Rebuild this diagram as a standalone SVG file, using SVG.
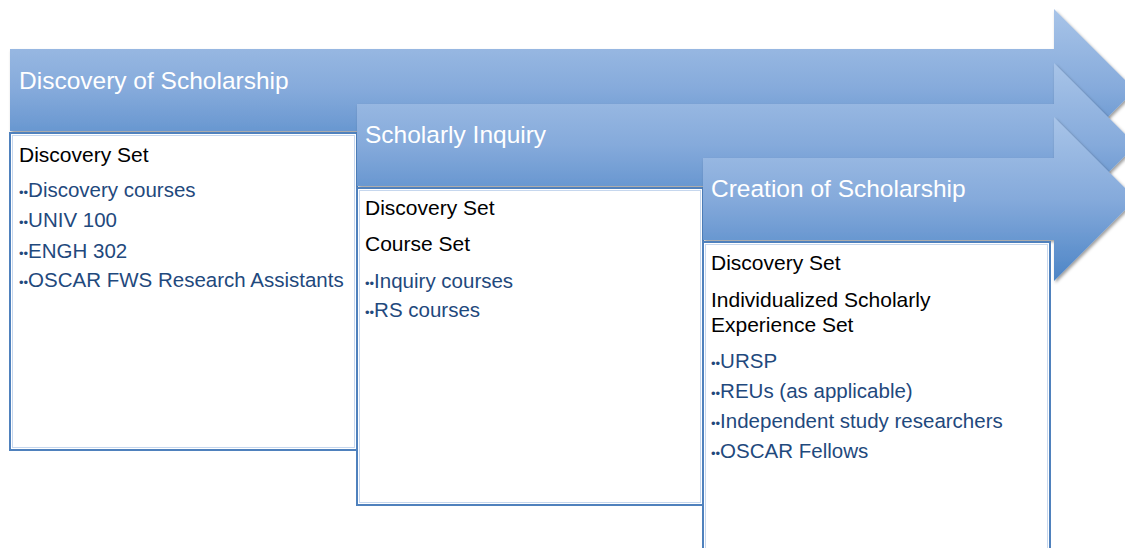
<svg xmlns="http://www.w3.org/2000/svg" width="1125" height="548" viewBox="0 0 1125 548">
  <defs>
    <linearGradient id="arrowGrad" x1="0" y1="0" x2="0" y2="1">
      <stop offset="0" stop-color="#a8c4e8"/>
      <stop offset="0.5" stop-color="#85aadb"/>
      <stop offset="1" stop-color="#4d85c6"/>
    </linearGradient>
    <filter id="shadow" x="-5%" y="-10%" width="115%" height="130%">
      <feDropShadow dx="1.5" dy="2" stdDeviation="1.8" flood-color="#000" flood-opacity="0.38"/>
    </filter>
  </defs>
  <style>
    .arrow { fill: url(#arrowGrad); filter: url(#shadow); }
    .box { fill: #ffffff; stroke: #4f81bd; stroke-width: 2; }
    .boxin { fill: none; stroke: #c6d7ee; stroke-width: 1; }
    .title { font-family: "Liberation Sans", Arial, sans-serif; font-size: 24.5px; fill: #ffffff; }
    .head { font-family: "Liberation Sans", Arial, sans-serif; font-size: 21px; fill: #000000; }
    .item { font-family: "Liberation Sans", Arial, sans-serif; font-size: 20.5px; fill: #1f497d; }
    .dot { font-size: 13px; }
  </style>

  <g id="stage1">
    <path class="arrow" d="M10,49 H1054 V9 L1135,90 L1054,171 V131 H10 Z"/>
    <text class="title" x="19" y="89">Discovery of Scholarship</text>
    <rect class="box" x="10" y="133" width="347" height="317"/>
    <rect class="boxin" x="12.5" y="135.5" width="342" height="312"/>
    <text class="head" x="19" y="162">Discovery Set</text>
    <text class="item" x="19" y="197"><tspan class="dot">••</tspan>Discovery courses</text>
    <text class="item" x="19" y="227"><tspan class="dot">••</tspan>UNIV 100</text>
    <text class="item" x="19" y="258"><tspan class="dot">••</tspan>ENGH 302</text>
    <text class="item" x="19" y="287"><tspan class="dot">••</tspan>OSCAR FWS Research Assistants</text>
  </g>

  <g id="stage2">
    <path class="arrow" d="M357,104 H1054 V63 L1136,145 L1054,227 V186 H357 Z"/>
    <text class="title" x="365" y="143">Scholarly Inquiry</text>
    <rect class="box" x="357" y="188" width="346" height="317"/>
    <rect class="boxin" x="359.5" y="190.5" width="341" height="312"/>
    <text class="head" x="365" y="215">Discovery Set</text>
    <text class="head" x="365" y="251">Course Set</text>
    <text class="item" x="365" y="288"><tspan class="dot">••</tspan>Inquiry courses</text>
    <text class="item" x="365" y="317"><tspan class="dot">••</tspan>RS courses</text>
  </g>

  <g id="stage3">
    <path class="arrow" d="M703,158 H1054 V117 L1136,199 L1054,281 V240 H703 Z"/>
    <text class="title" x="711" y="197">Creation of Scholarship</text>
    <rect class="box" x="703" y="242" width="347" height="320"/>
    <rect class="boxin" x="705.5" y="244.5" width="342" height="315"/>
    <text class="head" x="711" y="270">Discovery Set</text>
    <text class="head" x="711" y="307">Individualized Scholarly</text>
    <text class="head" x="711" y="332">Experience Set</text>
    <text class="item" x="711" y="368"><tspan class="dot">••</tspan>URSP</text>
    <text class="item" x="711" y="398"><tspan class="dot">••</tspan>REUs (as applicable)</text>
    <text class="item" x="711" y="428"><tspan class="dot">••</tspan>Independent study researchers</text>
    <text class="item" x="711" y="458"><tspan class="dot">••</tspan>OSCAR Fellows</text>
  </g>

  <g id="connectors"></g>
</svg>
